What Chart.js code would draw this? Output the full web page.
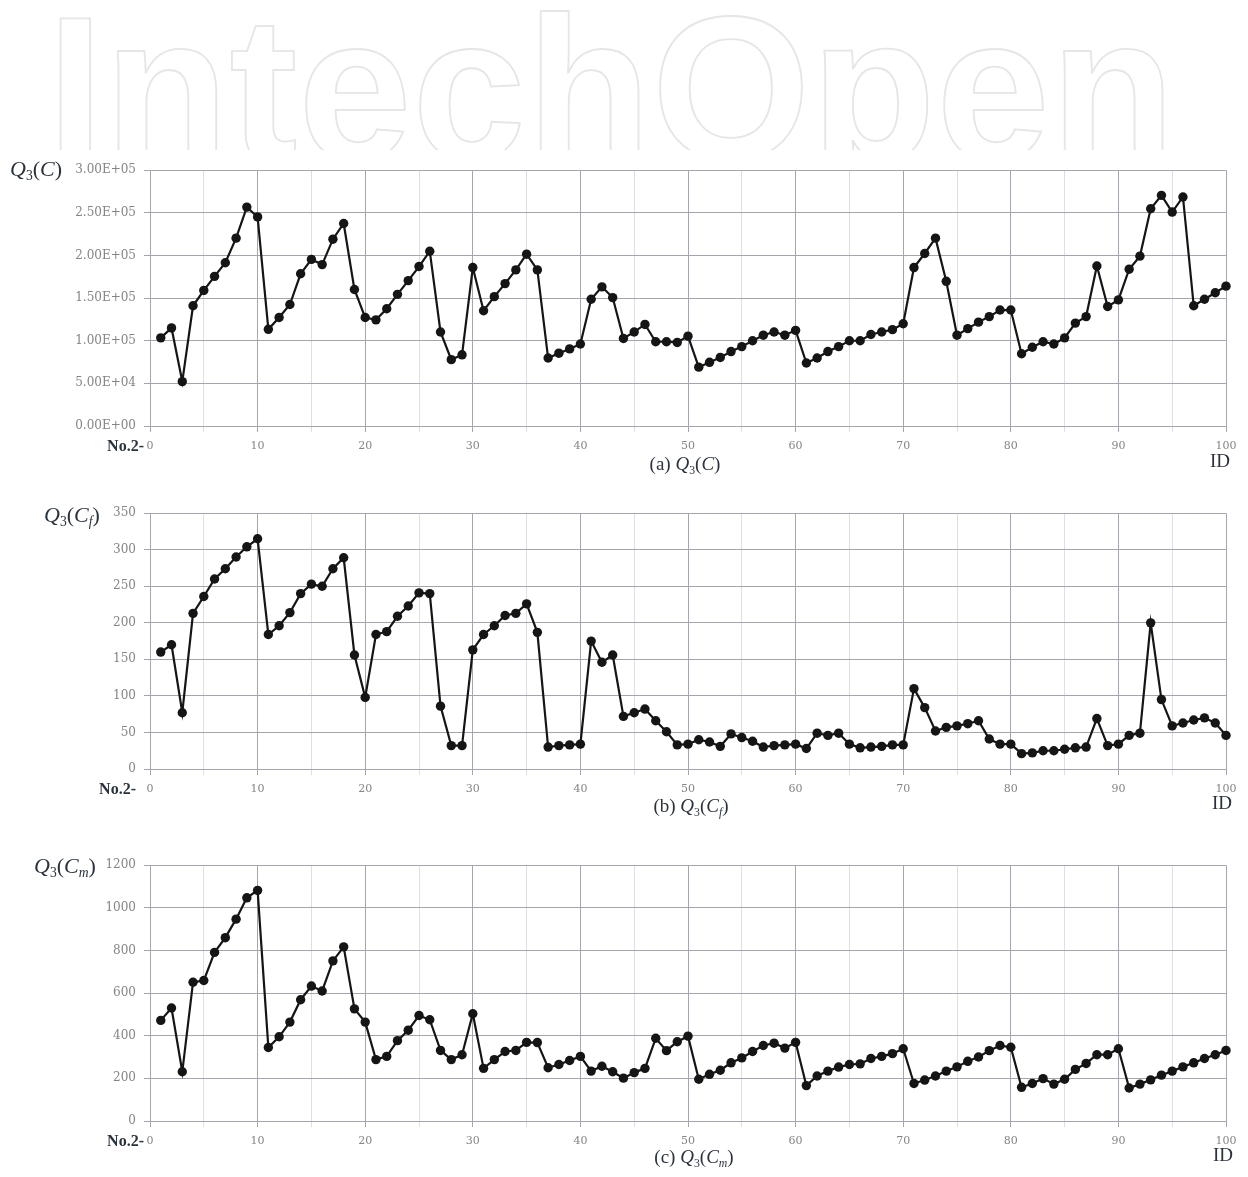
<!DOCTYPE html>
<html>
<head>
<meta charset="utf-8">
<script src="https://cdn.jsdelivr.net/npm/chart.js@4/dist/chart.umd.min.js"></script>
<style>
  html, body { margin: 0; padding: 0; background: #fff; }
  body { width: 1248px; height: 1177px; position: relative; overflow: hidden; }
  canvas { position: absolute; left: 0; }
  .t { position: absolute; white-space: nowrap; font-family: "Liberation Serif", "DejaVu Serif", serif; color: #2b333d; }
  .yt { font-size: 22px; }
  .cap { font-size: 19px; text-align: center; width: 200px; }
  .no { font-size: 16px; font-weight: bold; text-align: right; width: 80px; }
  .id { font-size: 19px; }
  i { font-style: italic; }
  sub { font-size: 62%; vertical-align: -0.3em; }
  #mark { position: absolute; left: 0; top: 0; }
</style>
</head>
<body>
<svg id="mark" width="1248" height="150">
  <text x="47" y="159" font-family="Liberation Sans, Arial, sans-serif" font-weight="bold" font-size="204" fill="none" stroke="#e6e6e6" stroke-width="1.8" textLength="1128" lengthAdjust="spacing">IntechOpen</text>
</svg>

<canvas id="cA" width="1248" height="311" style="top:155px"></canvas>
<canvas id="cB" width="1248" height="311" style="top:498px"></canvas>
<canvas id="cC" width="1248" height="311" style="top:850px"></canvas>

<div class="t yt" style="left:10px;top:156px"><i>Q</i><sub>3</sub>(<i>C</i>)</div>
<div class="t yt" style="left:44px;top:502px"><i>Q</i><sub>3</sub>(<i>C<sub>f</sub></i>)</div>
<div class="t yt" style="left:34px;top:853px"><i>Q</i><sub>3</sub>(<i>C<sub>m</sub></i>)</div>

<div class="t no" style="left:64px;top:437px">No.2-</div>
<div class="t no" style="left:56px;top:780px">No.2-</div>
<div class="t no" style="left:64px;top:1132px">No.2-</div>

<div class="t id" style="left:1210px;top:450px">ID</div>
<div class="t id" style="left:1212px;top:792px">ID</div>
<div class="t id" style="left:1213px;top:1144px">ID</div>

<div class="t cap" style="left:585px;top:453px">(a) <i>Q</i><sub>3</sub>(<i>C</i>)</div>
<div class="t cap" style="left:591px;top:795px">(b) <i>Q</i><sub>3</sub>(<i>C<sub>f</sub></i>)</div>
<div class="t cap" style="left:594px;top:1146px">(c) <i>Q</i><sub>3</sub>(<i>C<sub>m</sub></i>)</div>

<script>
// Sample IDs No.2-1 ... No.2-100
const ids = [1,2,3,4,5,6,7,8,9,10,11,12,13,14,15,16,17,18,19,20,
  21,22,23,24,25,26,27,28,29,30,31,32,33,34,35,36,37,38,39,40,
  41,42,43,44,45,46,47,48,49,50,51,52,53,54,55,56,57,58,59,60,
  61,62,63,64,65,66,67,68,69,70,71,72,73,74,75,76,77,78,79,80,
  81,82,83,84,85,86,87,88,89,90,91,92,93,94,95,96,97,98,99,100];

// (a) Q3(C)
const qC = [103400,115000,52100,141000,159000,175500,191500,220300,256700,245200,
  113400,127200,142500,178500,195400,189300,219100,237500,160100,127200,
  124500,137500,154400,170500,187000,205000,110300,77800,83500,185800,
  135200,151700,167000,183100,201500,183100,79700,85400,90400,96200,
  148600,163200,150600,102700,110300,119100,98800,98800,98000,105400,
  69000,74700,80400,87300,93100,100000,106500,110300,106500,112200,
  73900,79700,87300,93100,100000,100000,107300,110300,113000,119900,
  185800,202300,220300,169700,106500,114200,121800,128300,136000,136000,
  84700,92300,98800,96200,103400,120700,128300,187700,140200,147900,
  183900,199200,254800,270500,250900,268600,141000,148600,156300,164000];

// (b) Q3(Cf)
const qCf = [160,170,77,213,236,260,274,290,304,315,
  184,196,214,240,253,250,274,289,156,98,
  184,188,209,223,241,240,86,32,32,163,
  184,196,210,213,226,187,30,32,33,34,
  175,146,156,72,77,82,66,51,33,34,
  40,37,31,48,43,38,30,32,33,34,
  28,49,46,49,34,29,30,31,33,33,
  110,84,52,57,59,62,66,41,34,34,
  21,22,25,25,27,29,30,69,32,34,
  46,49,200,95,59,63,67,70,63,46];

// (c) Q3(Cm)
const qCm = [472,530,231,651,659,791,860,947,1047,1082,
  345,395,464,569,633,610,751,817,526,464,
  288,303,377,426,495,475,331,288,311,503,
  247,288,326,331,369,368,250,265,284,303,
  234,257,231,201,227,247,388,330,372,398,
  196,219,238,273,296,326,354,365,342,369,
  166,211,234,253,265,268,293,303,316,339,
  176,192,211,234,254,280,300,330,354,346,
  158,176,199,173,196,242,270,311,311,339,
  155,173,193,215,234,254,273,293,311,331];

// Axis tick labels
const xTickLabels = ['0','10','20','30','40','50','60','70','80','90','100'];
const yTicksA = ['0.00E+00','5.00E+04','1.00E+05','1.50E+05','2.00E+05','2.50E+05','3.00E+05'];
const yTicksB = ['0','50','100','150','200','250','300','350'];
const yTicksC = ['0','200','400','600','800','1000','1200'];

const gridMajor = '#a3a6ad';
const gridMinor = '#dedfe2';
const tickColor = '#858585';

function makePanel(id, values, yMax, yStep, yLabels) {
  new Chart(document.getElementById(id), {
    type: 'line',
    data: {
      datasets: [{
        data: ids.map((n, i) => ({ x: n, y: values[i] })),
        borderColor: '#151515',
        backgroundColor: '#151515',
        borderWidth: 2.2,
        pointRadius: 4.7,
        pointHoverRadius: 4.7,
        pointBorderWidth: 0,
        pointBackgroundColor: '#151515',
        tension: 0,
        clip: false
      }]
    },
    options: {
      responsive: false,
      animation: false,
      devicePixelRatio: 1,
      layout: { padding: { top: 10, right: 22, left: 0, bottom: 0 } },
      plugins: { legend: { display: false }, tooltip: { enabled: false } },
      scales: {
        x: {
          type: 'linear',
          min: 0, max: 100,
          afterFit: s => { s.height = 40; },
          ticks: {
            stepSize: 5,
            autoSkip: false,
            maxRotation: 0,
            padding: 8,
            color: tickColor,
            font: { family: 'DejaVu Serif', size: 11 },
            callback: v => (v % 10 === 0 ? xTickLabels[v / 10] : '')
          },
          grid: {
            color: c => (c.tick && c.tick.value % 10 === 0 ? gridMajor : gridMinor),
            tickLength: 6,
            lineWidth: 1
          },
          border: { color: gridMajor }
        },
        y: {
          min: 0, max: yMax,
          afterFit: s => { s.width = 150; },
          ticks: {
            stepSize: yStep,
            padding: 8,
            color: tickColor,
            font: { family: 'DejaVu Serif', size: 12 },
            callback: (v, i) => yLabels[i]
          },
          grid: { color: gridMajor, tickLength: 6, lineWidth: 1 },
          border: { color: gridMajor }
        }
      }
    }
  });
}

makePanel('cA', qC, 300000, 50000, yTicksA);
makePanel('cB', qCf, 350, 50, yTicksB);
makePanel('cC', qCm, 1200, 200, yTicksC);
</script>
</body>
</html>
